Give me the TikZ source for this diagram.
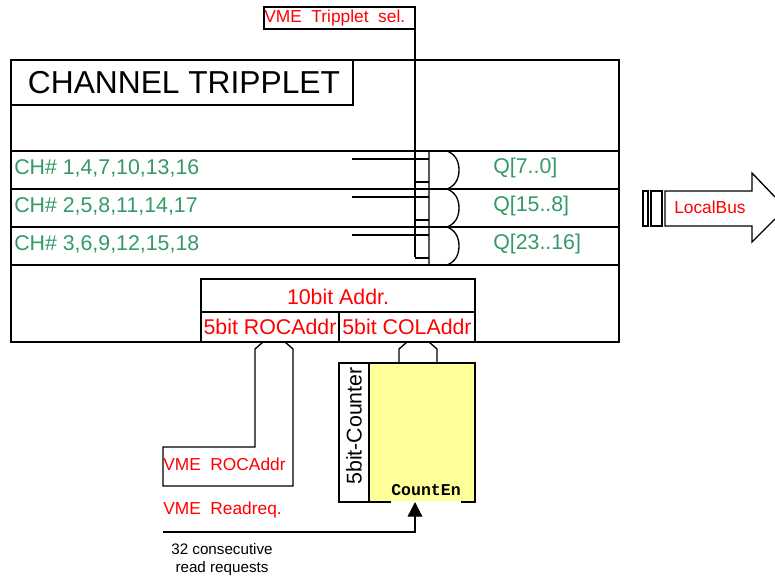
\documentclass[tikz,border=0pt]{standalone}
\usepackage{fontspec}
\setmainfont{Liberation Sans}
\setmonofont{Liberation Mono}
\usepackage{tikz}
\usetikzlibrary{arrows.meta,calc}
\definecolor{chgreen}{HTML}{339966}
\definecolor{cntyellow}{HTML}{FFFF99}
\tikzset{
  wire/.style={draw=black,line width=1pt},
  redlab/.style={text=red,inner sep=0pt,font=\fontsize{16}{18}\selectfont},
  vmelab/.style={text=red,inner sep=0pt,anchor=west,font=\fontsize{13}{15}\selectfont},
  greenlab/.style={text=chgreen,inner sep=0pt,anchor=west,font=\fontsize{16}{18}\selectfont},
  notelab/.style={text=black,inner sep=0pt,font=\fontsize{11.4}{13}\selectfont},
}
\begin{document}
\begin{tikzpicture}[x=0.75pt,y=-0.75pt,line join=miter]
  \useasboundingbox (0,0) rectangle (775,579);
  % outer board
  \coordinate (tl) at (11,60);
  \coordinate (br) at (619,342);
  \draw[wire] (tl) rectangle (br);
  \draw[wire] (11,60) rectangle (353,105);
  \node[inner sep=0pt,font=\fontsize{23.8}{26}\selectfont] (title) at (184,83) {CHANNEL TRIPPLET};
  % channel rows
  \foreach \yy/\chlab/\qlab [count=\i] in {151/{CH\# 1,4,7,10,13,16}/{Q[7..0]},189/{CH\# 2,5,8,11,14,17}/{Q[15..8]},227/{CH\# 3,6,9,12,15,18}/{Q[23..16]}} {
    \draw[wire] (11,\yy) rectangle (619,\yy+38);
    \node[greenlab] (ch\i) at (14,\yy+17) {\chlab};
    \node[greenlab] (q\i) at (493,\yy+17) {\qlab};
    \draw[wire] (352,\yy+8) -- (429,\yy+8);
    \draw[wire] (415,\yy+31) -- (429,\yy+31);
    \draw[wire] (429,\yy) -- (447,\yy) .. controls (455,\yy+3) and (459,\yy+10) .. (459,\yy+19)
      .. controls (459,\yy+28) and (455,\yy+35) .. (447,\yy+38) -- (429,\yy+38) -- cycle;
  }
  % vme select
  \draw[wire] (264,7) rectangle (415,29);
  \node[vmelab] (vmesel) at (264,18) {VME\ \ Tripplet\ \ sel.};
  \draw[wire] (415,29) -- (415,257);
  % address
  \draw[wire,fill=white] (201,279) rectangle (475,312);
  \draw[wire,fill=white] (201,312) rectangle (339,342);
  \draw[wire,fill=white] (339,312) rectangle (475,342);
  \node[redlab] (addr) at (338,297) {10bit Addr.};
  \node[redlab] (roc) at (270,327) {5bit ROCAddr};
  \node[redlab] (col) at (407,327) {5bit COLAddr};
  % buses
  \draw[wire] (263,342) -- (255,349) -- (255,447) -- (163,447) -- (163,486) -- (293,486) -- (293,349) -- (285,342);
  \draw[wire] (407,342) -- (399,349) -- (399,363);
  \draw[wire] (429,342) -- (437,349) -- (437,363);
  \node[vmelab] (vmeroc) at (163,464) {VME\ \ ROCAddr};
  \node[vmelab] (vmeread) at (163,510) {VME\ \ Readreq.};
  % counter
  \draw[wire,fill=white] (339,363) rectangle (369,502);
  \draw[wire,fill=cntyellow] (369,363) rectangle (475,502);
  \draw[white,line width=1.2pt] (391,502) -- (461,502);
  \node[rotate=90,inner sep=0pt,font=\fontsize{16}{18}\selectfont] (cntlab) at (354,426) {5bit-Counter};
  \node[inner sep=0pt,font=\ttfamily\bfseries\fontsize{12.4}{14}\selectfont] (cnten) at (426,490) {CountEn};
  \coordinate (reqin) at (163,532);
  \coordinate (reqtip) at (415,502);
  \draw[wire,-{Triangle[length=11pt,width=11pt]}] (reqin) -- (415,532) -- (reqtip);
  \node[notelab] (note1) at (222,549) {32 consecutive};
  \node[notelab] (note2) at (222,569) {read requests};
  % localbus arrow
  \draw[wire] (643,191) rectangle (648,226);
  \draw[wire] (651,191) rectangle (662,226);
  \draw[wire] (775,197) -- (752,173) -- (752,191) -- (665,191) -- (665,226) -- (752,226) -- (752,242) -- (775,219);
  \node[vmelab] (lbus) at (674,207) {LocalBus};
\end{tikzpicture}
\end{document}
